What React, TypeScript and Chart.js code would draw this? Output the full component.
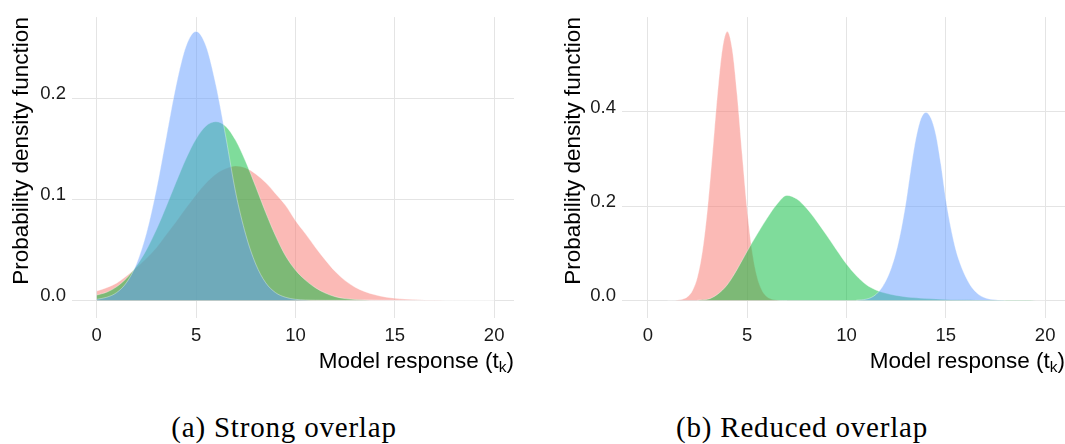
import React, { useEffect, useRef } from "react";
import { Chart, registerables } from "chart.js";

Chart.register(...registerables);

// ---------------- data ----------------
const X_TICKS = [0, 5, 10, 15, 20];
const LEFT_Y_TICKS = [0, 0.1, 0.2];
const RIGHT_Y_TICKS = [0, 0.2, 0.4];

const Y_TITLE = "Probability density function";
const X_TITLE_MAIN = "Model response (t";
const X_TITLE_SUB = "k";
const X_TITLE_END = ")";
const CAPTION_A = "(a) Strong overlap";
const CAPTION_B = "(b) Reduced overlap";

// (a) Strong overlap
const LEFT_X = [
  0, 0.5, 1, 1.5, 2, 2.5, 3, 3.5, 4, 4.5, 5, 5.5, 6, 6.5, 7, 7.5, 8, 8.5, 9, 9.5, 10,
  10.5, 11, 11.5, 12, 12.5, 13, 13.5, 14, 14.5, 15, 15.5, 16, 16.5, 17, 17.5, 18, 18.5, 19, 19.5, 20,
];
const LEFT_BLUE = [
  0.001, 0.003, 0.0076, 0.0175, 0.036, 0.0663, 0.1093, 0.1613, 0.213, 0.2516, 0.266, 0.2516, 0.213,
  0.1613, 0.106, 0.065, 0.036, 0.0175, 0.0076, 0.003, 0.001, 0.0003, 0.0001, 0, 0, 0, 0, 0, 0, 0, 0,
  0, 0, 0, 0, 0, 0, 0, 0, 0, 0,
];
const LEFT_GREEN = [
  0.0052, 0.008, 0.0134, 0.0218, 0.0339, 0.0499, 0.0698, 0.0928, 0.1171, 0.1403, 0.1596, 0.1725,
  0.1767, 0.172, 0.158, 0.137, 0.1125, 0.0871, 0.0638, 0.0441, 0.03, 0.02, 0.0125, 0.0072, 0.0036,
  0.0017, 0.0008, 0.0003, 0.0001, 0, 0, 0, 0, 0, 0, 0, 0, 0, 0, 0, 0,
];
const LEFT_RED = [
  0.0091, 0.0125, 0.017, 0.024, 0.0325, 0.0415, 0.052, 0.065, 0.078, 0.0915, 0.1045, 0.116, 0.125,
  0.1305, 0.133, 0.131, 0.125, 0.1165, 0.1055, 0.094, 0.079, 0.066, 0.0525, 0.04, 0.0285, 0.0195,
  0.013, 0.0085, 0.0055, 0.0033, 0.002, 0.0012, 0.0007, 0.0004, 0.0002, 0.0001, 0, 0, 0, 0, 0,
];

// (b) Reduced overlap
const RIGHT_RED_X = [
  1, 1.25, 1.5, 1.75, 2, 2.25, 2.5, 2.75, 3, 3.25, 3.5, 3.75, 4, 4.25, 4.5, 4.75, 5, 5.25, 5.5, 5.75,
  6, 6.25, 6.5, 6.75, 7,
];
const RIGHT_RED = [
  0, 0.0002, 0.0007, 0.0024, 0.0075, 0.0208, 0.05, 0.105, 0.1935, 0.3105, 0.4354, 0.5332, 0.5705,
  0.5332, 0.4354, 0.3105, 0.1935, 0.105, 0.05, 0.0208, 0.0075, 0.0024, 0.0007, 0.0002, 0,
];
const RIGHT_GREEN_X = [
  2.5, 3, 3.5, 4, 4.5, 5, 5.5, 6, 6.5, 7, 7.5, 8, 8.5, 9, 9.5, 10, 10.5, 11, 11.5, 12, 12.5, 13, 13.5,
  14, 14.5, 15, 15.5, 16, 16.5, 17, 17.5, 18, 18.5, 19, 19.5, 20,
];
const RIGHT_GREEN = [
  0.0003, 0.002, 0.0125, 0.033, 0.066, 0.104, 0.14, 0.174, 0.204, 0.2227, 0.215, 0.195, 0.168, 0.138,
  0.107, 0.077, 0.052, 0.033, 0.0215, 0.0148, 0.0104, 0.0072, 0.0052, 0.0037, 0.0027, 0.0019, 0.0014,
  0.001, 0.0008, 0.0006, 0.0005, 0.0004, 0.0004, 0.0004, 0.0003, 0.0003,
];
const RIGHT_BLUE_X = [
  10.5, 10.75, 11, 11.25, 11.5, 11.75, 12, 12.25, 12.5, 12.75, 13, 13.25, 13.5, 13.75, 14, 14.25,
  14.5, 14.75, 15, 15.25, 15.5, 15.75, 16, 16.25, 16.5, 16.75, 17, 17.25, 17.5, 17.75, 18,
];
const RIGHT_BLUE = [
  0.0003, 0.001, 0.0025, 0.006, 0.013, 0.025, 0.043, 0.068, 0.103, 0.15, 0.21, 0.282, 0.345, 0.386,
  0.399, 0.387, 0.352, 0.29, 0.215, 0.155, 0.108, 0.075, 0.05, 0.031, 0.018, 0.0095, 0.0048, 0.0022,
  0.001, 0.0004, 0.0001,
];

// ---------------- styles ----------------
const RED = "rgba(248,118,109,0.5)";
const GREEN = "rgba(0,186,56,0.5)";
const BLUE = "rgba(97,156,255,0.5)";
const EDGE = "rgba(255,255,255,0.35)";
const GRID = "#e4e4e4";
const SANS = '"Liberation Sans", Arial, Helvetica, sans-serif';

type Series = { xs: number[]; ys: number[]; color: string };
type PanelProps = {
  left: number;
  width: number;
  height: number;
  series: Series[];
  xMin: number;
  xMax: number;
  yMin: number;
  yMax: number;
  yTicks: number[];
  yAxisWidth: number;
  padRight: number;
  yTitlePad: number;
};

function DensityPanel(p: PanelProps) {
  const ref = useRef<HTMLCanvasElement>(null);

  useEffect(() => {
    const xTitlePlugin = {
      id: "xTitleSub",
      afterDraw(chart: any) {
        const { ctx, chartArea } = chart;
        ctx.save();
        ctx.fillStyle = "#000";
        ctx.textBaseline = "alphabetic";
        ctx.textAlign = "left";
        const mainFont = `22.5px ${SANS}`;
        const subFont = `15.5px ${SANS}`;
        ctx.font = mainFont;
        const w1 = ctx.measureText(X_TITLE_MAIN).width;
        const w3 = ctx.measureText(X_TITLE_END).width;
        ctx.font = subFont;
        const w2 = ctx.measureText(X_TITLE_SUB).width;
        const baseline = 368;
        let x = chartArea.right - (w1 + w2 + w3);
        ctx.font = mainFont;
        ctx.fillText(X_TITLE_MAIN, x, baseline);
        x += w1;
        ctx.font = subFont;
        ctx.fillText(X_TITLE_SUB, x, baseline + 4);
        x += w2;
        ctx.font = mainFont;
        ctx.fillText(X_TITLE_END, x, baseline);
        ctx.restore();
      },
    };

    const chart = new Chart(ref.current as HTMLCanvasElement, {
      type: "line",
      data: {
        datasets: p.series.map((s) => ({
          data: s.xs.map((x, i) => ({ x, y: s.ys[i] })),
          backgroundColor: s.color,
          borderColor: EDGE,
          borderWidth: 1,
          fill: "origin",
          pointRadius: 0,
          pointHoverRadius: 0,
          cubicInterpolationMode: "monotone",
        })),
      },
      options: {
        responsive: false,
        animation: false,
        devicePixelRatio: 1,
        events: [],
        layout: { padding: { left: 0, right: p.padRight, top: 12, bottom: 0 } },
        plugins: { legend: { display: false }, tooltip: { enabled: false } },
        scales: {
          x: {
            type: "linear",
            min: p.xMin,
            max: p.xMax,
            afterBuildTicks: (s: any) => {
              s.ticks = X_TICKS.map((v) => ({ value: v }));
            },
            afterFit: (s: any) => {
              s.height = p.height - 318;
            },
            grid: { color: GRID, lineWidth: 1, drawTicks: false },
            border: { display: false },
            ticks: {
              padding: 6.5,
              autoSkip: false,
              maxRotation: 0,
              color: "#1a1a1a",
              font: { family: SANS, size: 18.5 },
              callback: (v: any) => String(v),
            },
          },
          y: {
            type: "linear",
            min: p.yMin,
            max: p.yMax,
            afterBuildTicks: (s: any) => {
              s.ticks = p.yTicks.map((v) => ({ value: v }));
            },
            afterFit: (s: any) => {
              s.width = p.yAxisWidth;
            },
            grid: { color: GRID, lineWidth: 1, drawTicks: false },
            border: { display: false },
            ticks: {
              padding: 6,
              labelOffset: -4,
              color: "#1a1a1a",
              font: { family: SANS, size: 18.5 },
              callback: (v: any) => Number(v).toFixed(1),
            },
            title: {
              display: true,
              text: Y_TITLE,
              align: "end",
              color: "#000",
              font: { family: SANS, size: 22.5 },
              padding: { top: p.yTitlePad, bottom: 0 },
            },
          },
        },
      },
      plugins: [xTitlePlugin],
    } as any);
    return () => chart.destroy();
  }, []);

  return (
    <canvas
      ref={ref}
      width={p.width}
      height={p.height}
      style={{ position: "absolute", left: p.left, top: 0, width: p.width, height: p.height }}
    />
  );
}

const captionStyle: React.CSSProperties = {
  position: "absolute",
  top: 413,
  width: 400,
  textAlign: "center",
  fontFamily: '"Liberation Serif", "Times New Roman", serif',
  fontSize: 29,
  lineHeight: "29px",
  letterSpacing: "0.8px",
  color: "#000",
  whiteSpace: "nowrap",
};

export default function App() {
  return (
    <div
      style={{
        position: "absolute",
        left: 0,
        top: 0,
        width: 1065,
        height: 444,
        background: "#fff",
        overflow: "hidden",
      }}
    >
      <DensityPanel
        left={0}
        width={530}
        height={380}
        series={[
          { xs: LEFT_X, ys: LEFT_BLUE, color: BLUE },
          { xs: LEFT_X, ys: LEFT_GREEN, color: GREEN },
          { xs: LEFT_X, ys: LEFT_RED, color: RED },
        ]}
        xMin={-1.243}
        xMax={21}
        yMin={-0.0175}
        yMax={0.2802}
        yTicks={LEFT_Y_TICKS}
        yAxisWidth={72}
        padRight={16}
        yTitlePad={8}
      />
      <DensityPanel
        left={530}
        width={535}
        height={380}
        series={[
          { xs: RIGHT_BLUE_X, ys: RIGHT_BLUE, color: BLUE },
          { xs: RIGHT_GREEN_X, ys: RIGHT_GREEN, color: GREEN },
          { xs: RIGHT_RED_X, ys: RIGHT_RED, color: RED },
        ]}
        xMin={-1.3}
        xMax={21}
        yMin={-0.0376}
        yMax={0.6013}
        yTicks={RIGHT_Y_TICKS}
        yAxisWidth={92}
        padRight={0}
        yTitlePad={30}
      />
      <div style={{ ...captionStyle, left: 84 }}>{CAPTION_A}</div>
      <div style={{ ...captionStyle, left: 602 }}>{CAPTION_B}</div>
    </div>
  );
}
